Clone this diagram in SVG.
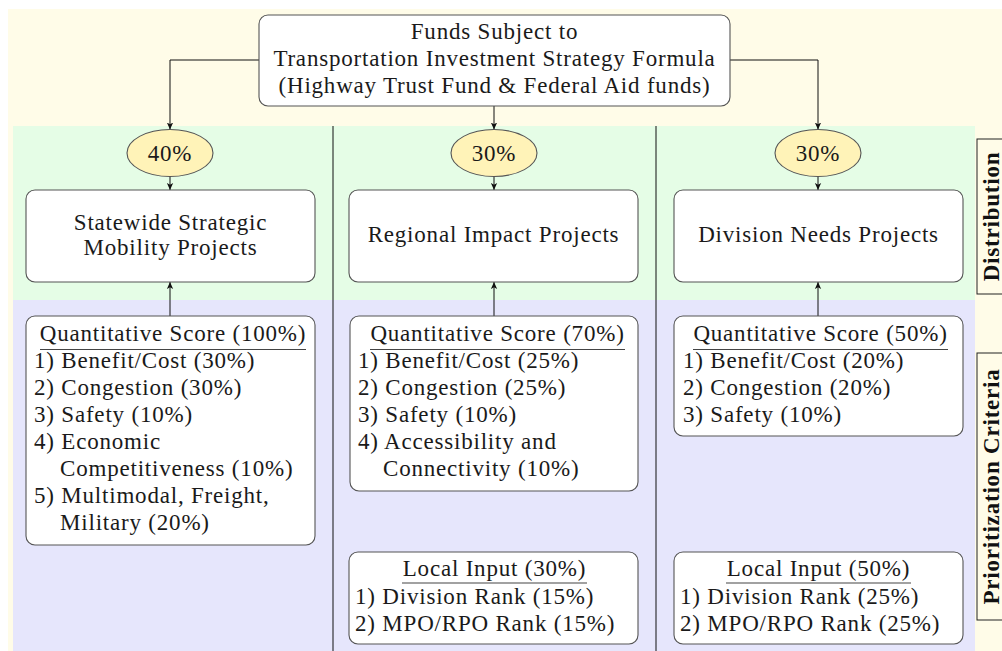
<svg xmlns="http://www.w3.org/2000/svg" width="1002" height="651" viewBox="0 0 1002 651">
  <defs>
    <marker id="arrow" viewBox="0 0 10 10" refX="10" refY="5" markerWidth="7" markerHeight="7" markerUnits="userSpaceOnUse" orient="auto">
      <path d="M0,0.5 L10,5 L0,9.5 L2.5,5 Z" fill="#111"/>
    </marker>
  </defs>
  <style>
    .t { font-family: "Liberation Serif", "Times New Roman", serif; font-size: 23px; fill: #1a1a1a; letter-spacing: 0.8px; }
    .c { text-anchor: middle; }
    .lbl { font-family: "Liberation Serif", "Times New Roman", serif; font-size: 23px; font-weight: bold; fill: #111; letter-spacing: 0.8px; text-anchor: middle; }
    .box { fill: #ffffff; stroke: #555; stroke-width: 1.1; }
    .pct { fill: #fff3b8; stroke: #555; stroke-width: 1.1; }
    .rule { stroke: #444; stroke-width: 1.2; }
    .conn { fill: none; stroke: #111; stroke-width: 1; marker-end: url(#arrow); }
    .sep { stroke: #111; stroke-width: 1; }
    .tag { fill: none; stroke: #222; stroke-width: 1; }
  </style>

  <!-- bands -->
  <rect x="8" y="9" width="994" height="642" fill="#fffce8"/>
  <rect x="13" y="126" width="962" height="174" fill="#e5fde6"/>
  <rect x="13" y="300" width="962" height="351" fill="#e6e6fc"/>

  <!-- column separators -->
  <line class="sep" x1="333" y1="126" x2="333" y2="651"/>
  <line class="sep" x1="656" y1="126" x2="656" y2="651"/>

  <!-- side labels -->
  <g id="label-distribution">
    <rect class="tag" x="977" y="139" width="40" height="155"/>
    <text class="lbl" transform="translate(999,216.5) rotate(-90)">Distribution</text>
  </g>
  <g id="label-prioritization">
    <rect class="tag" x="977" y="353" width="40" height="267"/>
    <text class="lbl" transform="translate(999,486.5) rotate(-90)">Prioritization Criteria</text>
  </g>

  <!-- connectors -->
  <g id="connectors">
    <path class="conn" d="M259,60 H170 V129.5"/>
    <path class="conn" d="M494,106 V129.5"/>
    <path class="conn" d="M730,60 H818 V129.5"/>
    <path class="conn" d="M170,176.5 V190"/>
    <path class="conn" d="M494,176.5 V190"/>
    <path class="conn" d="M818,176.5 V190"/>
    <path class="conn" d="M170,316 V282"/>
    <path class="conn" d="M494,316 V282"/>
    <path class="conn" d="M818,316 V282"/>
  </g>

  <!-- source of funds -->
  <g id="funds">
    <rect class="box" x="259" y="15" width="471" height="91" rx="9"/>
    <text class="t c" x="494.5" y="39">Funds Subject to</text>
    <text class="t c" x="494.5" y="66">Transportation Investment Strategy Formula</text>
    <text class="t c" x="494.5" y="93">(Highway Trust Fund &amp; Federal Aid funds)</text>
  </g>

  <!-- shares -->
  <g id="share-statewide">
    <ellipse class="pct" cx="170" cy="153" rx="43" ry="23.5"/>
    <text class="t c" x="170" y="161">40%</text>
  </g>
  <g id="share-regional">
    <ellipse class="pct" cx="494" cy="153" rx="43" ry="23.5"/>
    <text class="t c" x="494" y="161">30%</text>
  </g>
  <g id="share-division">
    <ellipse class="pct" cx="818" cy="153" rx="43" ry="23.5"/>
    <text class="t c" x="818" y="161">30%</text>
  </g>

  <!-- project categories -->
  <g id="statewide">
    <rect class="box" x="26" y="190" width="289" height="92" rx="9"/>
    <text class="t c" x="170.5" y="230">Statewide Strategic</text>
    <text class="t c" x="170.5" y="255">Mobility Projects</text>
  </g>
  <g id="regional">
    <rect class="box" x="349" y="190" width="289" height="92" rx="9"/>
    <text class="t c" x="493.5" y="242">Regional Impact Projects</text>
  </g>
  <g id="division">
    <rect class="box" x="674" y="190" width="289" height="92" rx="9"/>
    <text class="t c" x="818.5" y="242">Division Needs Projects</text>
  </g>

  <!-- scoring criteria -->
  <g id="statewide-score">
    <rect class="box" x="26" y="316" width="289" height="229" rx="9"/>
    <text class="t c" x="173" y="341">Quantitative Score (100%)</text>
    <line class="rule" x1="40" y1="349.5" x2="306" y2="349.5"/>
    <text class="t" x="34" y="368">1) Benefit/Cost (30%)</text>
    <text class="t" x="34" y="395">2) Congestion (30%)</text>
    <text class="t" x="34" y="422">3) Safety (10%)</text>
    <text class="t" x="34" y="449">4) Economic</text>
    <text class="t" x="60" y="476">Competitiveness (10%)</text>
    <text class="t" x="34" y="503">5) Multimodal, Freight,</text>
    <text class="t" x="60" y="530">Military (20%)</text>
  </g>
  <g id="regional-score">
    <rect class="box" x="350" y="316" width="288" height="175" rx="9"/>
    <text class="t c" x="497.5" y="341">Quantitative Score (70%)</text>
    <line class="rule" x1="370" y1="349.5" x2="625" y2="349.5"/>
    <text class="t" x="358" y="368">1) Benefit/Cost (25%)</text>
    <text class="t" x="358" y="395">2) Congestion (25%)</text>
    <text class="t" x="358" y="422">3) Safety (10%)</text>
    <text class="t" x="358" y="449">4) Accessibility and</text>
    <text class="t" x="383" y="476">Connectivity (10%)</text>
  </g>
  <g id="division-score">
    <rect class="box" x="674" y="316" width="289" height="120" rx="9"/>
    <text class="t c" x="820.5" y="341">Quantitative Score (50%)</text>
    <line class="rule" x1="693" y1="349.5" x2="948" y2="349.5"/>
    <text class="t" x="683" y="368">1) Benefit/Cost (20%)</text>
    <text class="t" x="683" y="395">2) Congestion (20%)</text>
    <text class="t" x="683" y="422">3) Safety (10%)</text>
  </g>

  <!-- local input -->
  <g id="regional-local">
    <rect class="box" x="349" y="552" width="289" height="92" rx="9"/>
    <text class="t c" x="494.5" y="576">Local Input (30%)</text>
    <line class="rule" x1="402" y1="583" x2="587" y2="583"/>
    <text class="t" x="355" y="604">1) Division Rank (15%)</text>
    <text class="t" x="355" y="631">2) MPO/RPO Rank (15%)</text>
  </g>
  <g id="division-local">
    <rect class="box" x="674" y="552" width="289" height="92" rx="9"/>
    <text class="t c" x="818.5" y="576">Local Input (50%)</text>
    <line class="rule" x1="726" y1="583" x2="911" y2="583"/>
    <text class="t" x="680" y="604">1) Division Rank (25%)</text>
    <text class="t" x="680" y="631">2) MPO/RPO Rank (25%)</text>
  </g>
</svg>
